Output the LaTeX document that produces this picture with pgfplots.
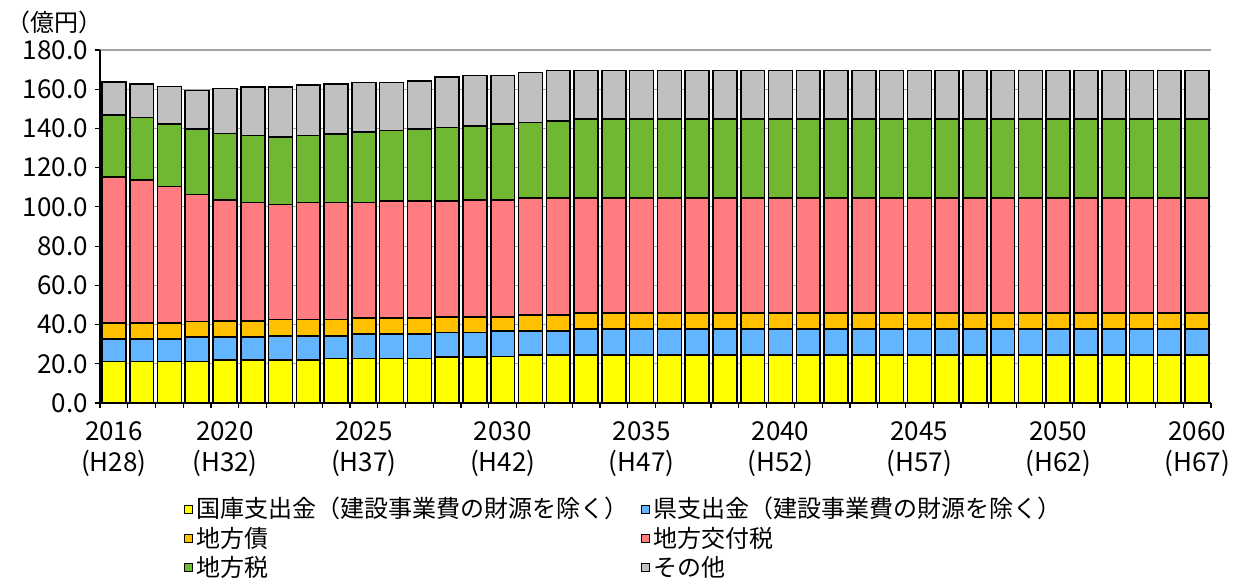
\documentclass[border=0pt]{standalone}
\usepackage{fontspec}
\setmainfont{Noto Sans CJK JP}
\usepackage{pgfplots}
\usepackage{pgfplotstable}
\pgfplotsset{compat=1.18}

\definecolor{cYel}{HTML}{FFFF00}
\definecolor{cBlu}{HTML}{63B5FF}
\definecolor{cOra}{HTML}{FFC000}
\definecolor{cPnk}{HTML}{FF7C80}
\definecolor{cGrn}{HTML}{70B832}
\definecolor{cGry}{HTML}{C0C0C0}

% 億円, 各年度（40本）
\pgfplotstableread{
i  kokko ken  chisai kofu chizei other
0  21.1 11.5 8.3 74.4 31.7 16.7
1  21.1 11.5 8.3 72.9 31.7 17.1
2  21.1 11.5 8.3 69.5 31.9 19.0
3  21.1 12.5 8.0 64.7 33.4 19.7
4  21.9 11.7 8.2 61.8 33.8 22.9
5  21.9 11.7 8.2 60.4 34.3 24.5
6  21.9 12.4 8.3 58.6 34.5 25.3
7  21.9 12.4 8.3 59.6 34.3 25.5
8  22.6 11.7 8.3 59.6 35.0 25.4
9  22.6 12.5 8.2 58.9 36.0 25.3
10 22.6 12.5 8.2 59.8 35.8 24.6
11 22.6 12.5 8.2 59.8 36.5 24.7
12 23.6 12.4 8.0 59.1 37.3 25.8
13 23.6 12.4 8.0 59.6 37.7 25.6
14 23.8 12.8 7.4 59.6 38.6 24.8
15 24.5 12.3 8.0 59.6 38.6 25.6
16 24.5 12.3 8.0 59.6 39.4 25.7
17 24.5 13.2 8.1 58.6 40.3 24.8
18 24.5 13.2 8.1 58.6 40.3 24.8
19 24.5 13.2 8.1 58.6 40.3 24.8
20 24.5 13.2 8.1 58.6 40.3 24.8
21 24.5 13.2 8.1 58.6 40.3 24.8
22 24.5 13.2 8.1 58.6 40.3 24.8
23 24.5 13.2 8.1 58.6 40.3 24.8
24 24.5 13.2 8.1 58.6 40.3 24.8
25 24.5 13.2 8.1 58.6 40.3 24.8
26 24.5 13.2 8.1 58.6 40.3 24.8
27 24.5 13.2 8.1 58.6 40.3 24.8
28 24.5 13.2 8.1 58.6 40.3 24.8
29 24.5 13.2 8.1 58.6 40.3 24.8
30 24.5 13.2 8.1 58.6 40.3 24.8
31 24.5 13.2 8.1 58.6 40.3 24.8
32 24.5 13.2 8.1 58.6 40.3 24.8
33 24.5 13.2 8.1 58.6 40.3 24.8
34 24.5 13.2 8.1 58.6 40.3 24.8
35 24.5 13.2 8.1 58.6 40.3 24.8
36 24.5 13.2 8.1 58.6 40.3 24.8
37 24.5 13.2 8.1 58.6 40.3 24.8
38 24.5 13.2 8.1 58.6 40.3 24.8
39 24.5 13.2 8.1 58.6 40.3 24.8
}\budget

\begin{document}
\begin{tikzpicture}
\useasboundingbox (-50pt,-89.85pt) rectangle (572pt,201.5pt);
\begin{axis}[
  scale only axis, width=555.5pt, height=176.5pt,
  ybar stacked, bar width=0.86,
  xmin=-0.5, xmax=39.5, ymin=0, ymax=180,
  axis x line*=bottom, axis y line*=left,
  axis line style={black, line width=0.8pt},
  ymajorgrids, grid style={gray!70, line width=0.6pt},
  tick align=outside,
  ytick={0,20,...,180},
  yticklabels={0.0,20.0,40.0,60.0,80.0,100.0,120.0,140.0,160.0,180.0},
  xtick={0,4,9,14,19,24,29,34,39},
  xticklabels={2016\\(H28),2020\\(H32),2025\\(H37),2030\\(H42),2035\\(H47),2040\\(H52),2045\\(H57),2050\\(H62),2060\\(H67)},
  major x tick style={draw=none},
  minor xtick={-0.5,0.5,...,39.5},
  minor x tick style={black, line width=0.6pt},
  major y tick style={black, line width=0.6pt},
  minor tick length=2.5pt, major tick length=2.5pt,
  xticklabel style={align=center, font=\fontsize{13}{15.5}\selectfont, yshift=-3.5pt},
  yticklabel style={font=\fontsize{13}{15}\selectfont},
  every axis plot/.append style={draw=black, line width=0.8pt},
  legend columns=2,
  legend cell align=left,
  legend style={at={(0.075,-0.255)}, anchor=north west, draw=none, fill=none,
    font=\fontsize{12}{14}\selectfont, inner sep=0pt, row sep=-1pt,
    /tikz/every even column/.append style={column sep=4pt}},
  legend image code/.code={\draw[#1,draw=black,line width=0.5pt] (0pt,-2pt) rectangle (4pt,2pt);},
]
\addplot[fill=cYel] table[x=i,y=kokko] {\budget};
\addlegendentry{国庫支出金（建設事業費の財源を除く）}
\addplot[fill=cBlu] table[x=i,y=ken] {\budget};
\addlegendentry{県支出金（建設事業費の財源を除く）}
\addplot[fill=cOra] table[x=i,y=chisai] {\budget};
\addlegendentry{地方債}
\addplot[fill=cPnk] table[x=i,y=kofu] {\budget};
\addlegendentry{地方交付税}
\addplot[fill=cGrn] table[x=i,y=chizei] {\budget};
\addlegendentry{地方税}
\addplot[fill=cGry] table[x=i,y=other] {\budget};
\addlegendentry{その他}
\end{axis}
\node[font=\fontsize{12}{14}\selectfont] at (-22.5pt,190.5pt) {（億円）};
\end{tikzpicture}
\end{document}
